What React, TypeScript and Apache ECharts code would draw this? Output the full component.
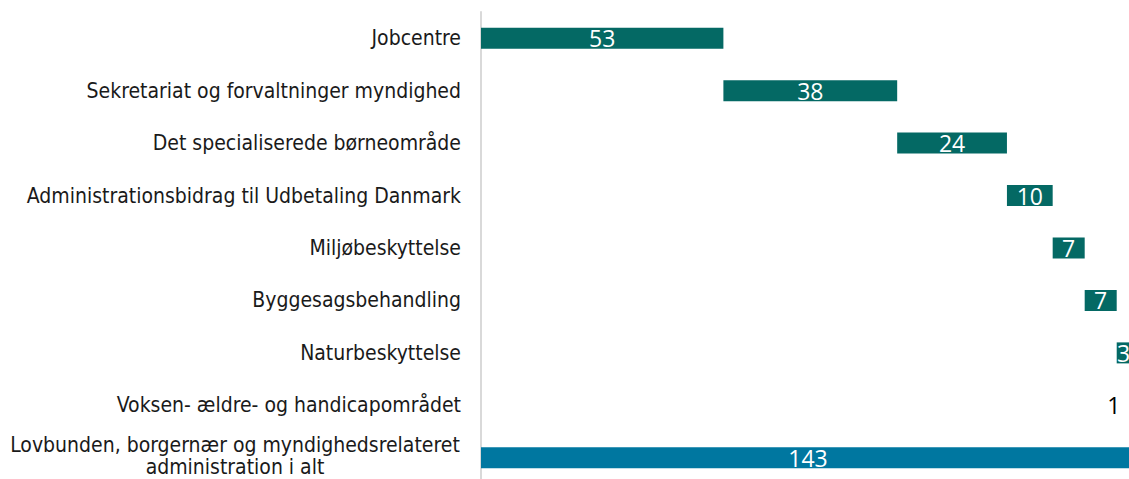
import React, { useEffect, useRef } from "react";
import * as echarts from "echarts";

const categories = [
  "Jobcentre",
  "Sekretariat og forvaltninger myndighed",
  "Det specialiserede børneområde",
  "Administrationsbidrag til Udbetaling Danmark",
  "Miljøbeskyttelse",
  "Byggesagsbehandling",
  "Naturbeskyttelse",
  "Voksen- ældre- og handicapområdet",
  "Lovbunden, borgernær og myndighedsrelateret\nadministration i alt",
];
const values = [53, 38, 24, 10, 7, 7, 3, 1, 143];
const isTotal = [false, false, false, false, false, false, false, false, true];

const TEAL = "#046964";
const BLUE = "#0077A0";
const FONT = "DejaVu Sans Condensed";
const NUMFONT = "Open Sans";

export default function App() {
  const ref = useRef<HTMLDivElement>(null);
  useEffect(() => {
    if (!ref.current) return;
    const chart = echarts.init(ref.current, null, { renderer: "svg" });
    const bases: number[] = [];
    let acc = 0;
    values.forEach((v, i) => {
      if (isTotal[i]) {
        bases.push(0);
      } else {
        bases.push(acc);
        acc += v;
      }
    });
    chart.setOption({
      animation: false,
      grid: {
        left: 481,
        top: 12,
        width: 654,
        height: 472,
        containLabel: false,
        outerBoundsMode: "none",
      },
      xAxis: {
        type: "value",
        min: 0,
        max: 143,
        show: false,
      },
      yAxis: {
        type: "category",
        inverse: true,
        data: categories,
        axisLine: { show: true, lineStyle: { color: "#d9d9d9", width: 2 } },
        axisTick: { show: false },
        axisLabel: {
          margin: 20,
          fontFamily: FONT,
          fontSize: 21,
          color: "#1a1a1a",
          formatter: (v: string) =>
            v.includes("\n") ? `{c|${v}}` : v,
          rich: {
            c: {
              align: "center",
              width: 452,
              fontFamily: FONT,
              fontSize: 21,
              color: "#1a1a1a",
              lineHeight: 22,
              padding: [0, 0, 4, 0],
            },
          },
        },
      },
      series: [
        {
          type: "bar",
          stack: "w",
          barWidth: 21,
          silent: true,
          itemStyle: { color: "transparent" },
          data: bases,
        },
        {
          type: "bar",
          stack: "w",
          barWidth: 21,
          data: values.map((v, i) => ({
            value: v,
            itemStyle: { color: isTotal[i] ? BLUE : TEAL },
            label:
              v === 1
                ? { position: "left", distance: 10, color: "#000" }
                : undefined,
          })),
          label: {
            show: true,
            position: "inside",
            color: "#fff",
            fontFamily: NUMFONT,
            fontSize: 23,
          },
        },
      ],
    });
    return () => chart.dispose();
  }, []);
  return (
    <div
      ref={ref}
      style={{ position: "fixed", left: 0, top: 0, width: 1129, height: 479, background: "#fff" }}
    />
  );
}
